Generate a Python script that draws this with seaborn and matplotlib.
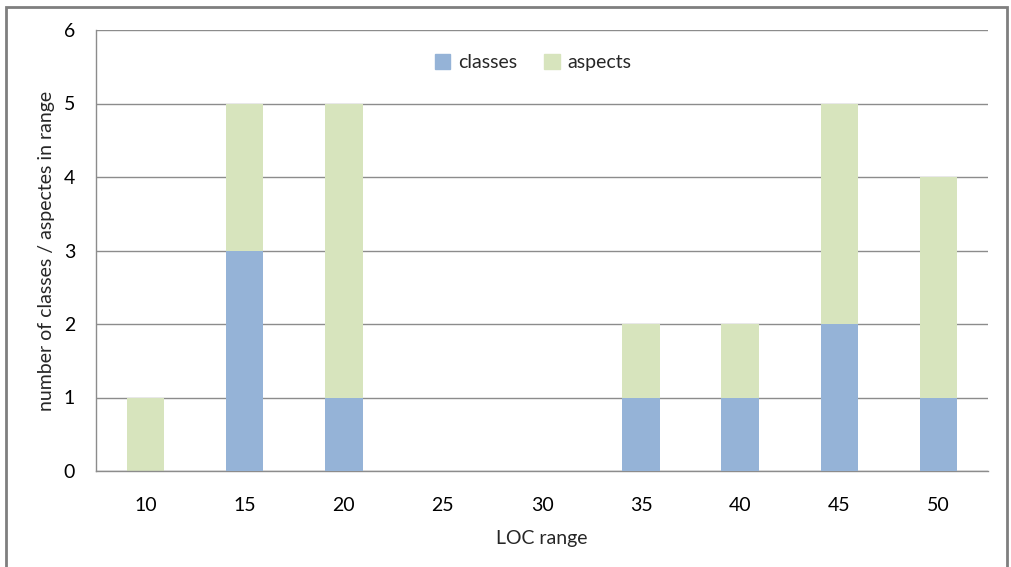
import matplotlib
matplotlib.use("Agg")
import matplotlib.pyplot as plt
import seaborn as sns
import pandas as pd
from matplotlib.patches import Rectangle, Patch

# data
loc_range = ["10", "15", "20", "25", "30", "35", "40", "45", "50"]
classes = [0, 3, 1, 0, 0, 1, 1, 2, 1]
aspects = [1, 2, 4, 0, 0, 1, 1, 3, 3]

df = pd.DataFrame({"loc": loc_range, "classes": classes, "aspects": aspects})
df["total"] = df["classes"] + df["aspects"]

c_classes = "#95B3D7"
c_aspects = "#D7E4BD"
grid_c = "#8c8c8c"

sns.set_style("white")
plt.rcParams["font.family"] = ["Lato", "DejaVu Sans"]

fig = plt.figure(figsize=(10.12, 5.67), dpi=100)
ax = fig.add_axes([96 / 1012, 1 - 471 / 567, (988 - 96) / 1012, (471 - 30) / 567])

# stacked: total (aspects on top) first, then classes over it
sns.barplot(data=df, x="loc", y="total", color=c_aspects, width=0.38, ax=ax,
            saturation=1, zorder=2, linewidth=0)
sns.barplot(data=df, x="loc", y="classes", color=c_classes, width=0.38, ax=ax,
            saturation=1, zorder=3, linewidth=0)

ax.set_ylim(0, 6)
ax.set_xlim(-0.5, len(loc_range) - 0.5)
ax.set_yticks(range(0, 7))
ax.yaxis.grid(True, color=grid_c, linewidth=1)
ax.set_axisbelow(True)
for s in ["top", "right"]:
    ax.spines[s].set_visible(False)
for s in ["left", "bottom"]:
    ax.spines[s].set_color(grid_c)
    ax.spines[s].set_linewidth(1)

# category boundary ticks on x axis
ax.set_xticks(range(len(loc_range)))
ax.set_xticklabels(loc_range)
ax.tick_params(axis="x", length=0, pad=19, labelsize=14)
ax.set_xticks([i - 0.5 for i in range(len(loc_range) + 1)], minor=True)
ax.tick_params(axis="x", which="minor", length=7, width=1)
ax.tick_params(axis="y", length=7, width=1, labelsize=14, pad=8)
ax.tick_params(axis="both", which="both", color=grid_c, labelcolor="black")

ax.set_xlabel("LOC range", fontsize=14, labelpad=11)
ax.set_ylabel("number of classes / aspectes in range", fontsize=14, labelpad=6)

handles = [Patch(color=c_classes, label="classes"), Patch(color=c_aspects, label="aspects")]
ax.legend(handles=handles, loc="upper center", bbox_to_anchor=(0.49, 0.985), ncol=2,
          frameon=False, fontsize=14, handlelength=0.8, handleheight=0.8,
          handletextpad=0.4, columnspacing=1.4)

# outer chart border
fig.patches.append(Rectangle((6 / 1012, -0.02), 1001 / 1012, 1 - 7 / 567 + 0.02,
                             transform=fig.transFigure, fill=False,
                             edgecolor="#7f7f7f", linewidth=2))

fig.savefig("out.png", dpi=100)
